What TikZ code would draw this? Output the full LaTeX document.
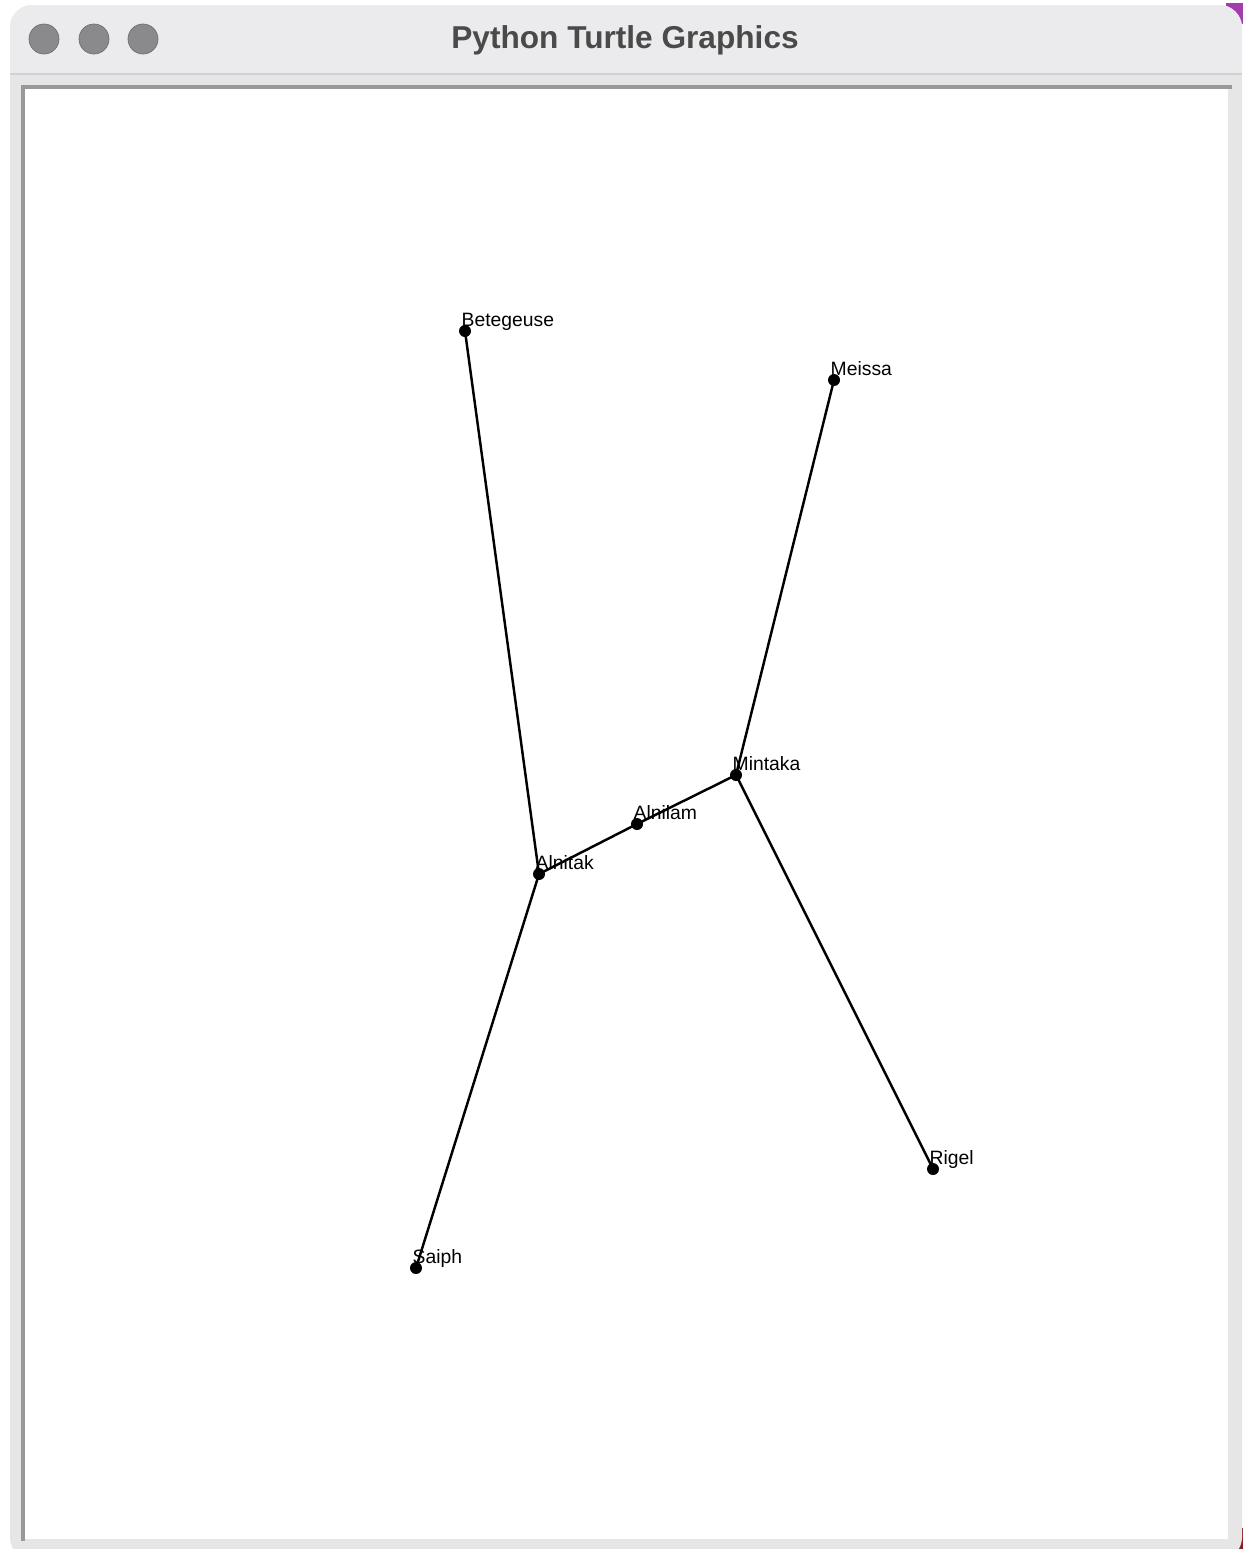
\documentclass[tikz,border=0pt]{standalone}
\usepackage{fontspec}
\setmainfont{Liberation Sans}
\usepackage{tikz}

\definecolor{titlegray}{HTML}{EBEBEE}
\definecolor{framegray}{HTML}{E6E6E6}
\definecolor{bordergray}{HTML}{999999}
\definecolor{btngray}{HTML}{8A898C}
\definecolor{btnedge}{HTML}{707073}
\definecolor{titletext}{HTML}{4A4A4A}
\definecolor{deskpurple}{HTML}{A23DB0}
\definecolor{deskred}{HTML}{8A1C22}

\begin{document}
\begin{tikzpicture}[x=0.02cm, y=-0.02cm, thick,
    star/.style={circle, fill=black, inner sep=0pt, minimum size=0.24cm},
    starname/.style={anchor=base west, inner sep=0pt, font=\fontsize{11}{13}\selectfont},
    btn/.style={circle, fill=btngray, draw=btnedge, line width=0.4pt, minimum size=0.6cm, inner sep=0pt},
    link/.style={line width=1.4pt}]
    \useasboundingbox (0,0) rectangle (1252,1549);
    \fill[white] (0,0) rectangle (1252,1549);

    % Desktop corners
    \fill[deskpurple] (1226,3) rectangle (1243,24);
    \fill[deskred] (1226,1528) rectangle (1243,1549);

    % Window
    \fill[framegray, rounded corners=0.45cm] (10,5) rectangle (1242,1560);
    \begin{scope}
        \clip[rounded corners=0.45cm] (10,5) rectangle (1242,1560);
        \fill[titlegray] (10,5) rectangle (1242,74);
    \end{scope}
    \draw[black!18, line width=0.8pt] (10,74) -- (1242,74);

    % Buttons and title
    \node[btn] (close) at (44,39) {};
    \node[btn] (mini) at (94,39) {};
    \node[btn] (zoom) at (143,39) {};
    \node[font=\fontsize{18}{20}\selectfont\bfseries, text=titletext] (title) at (625,40) {Python Turtle Graphics};

    % Canvas
    \fill[bordergray] (21,85) rectangle (1232,89);
    \fill[bordergray] (21,85) rectangle (25,1541);
    \fill[white] (25,89) rectangle (1228,1539);

    % Stars
    \node[star] (betegeuse) at (465,331) {};
    \node[star] (meissa) at (834,380) {};
    \node[star] (mintaka) at (736,775) {};
    \node[star] (alnilam) at (637,824) {};
    \node[star] (alnitak) at (539,874) {};
    \node[star] (saiph) at (416,1268) {};
    \node[star] (rigel) at (933,1169) {};

    % Lines
    \draw[link] (betegeuse.center) -- (alnitak.center);
    \draw[link] (meissa.center) -- (mintaka.center);
    \draw[link] (alnitak.center) -- (alnilam.center) -- (mintaka.center);
    \draw[link] (alnitak.center) -- (saiph.center);
    \draw[link] (mintaka.center) -- (rigel.center);

    % Names
    \node[starname] (betegeuse-name) at ([shift={(-4,-5)}]betegeuse.center) {Betegeuse};
    \node[starname] (meissa-name) at ([shift={(-4,-5)}]meissa.center) {Meissa};
    \node[starname] (mintaka-name) at ([shift={(-4,-5)}]mintaka.center) {Mintaka};
    \node[starname] (alnilam-name) at ([shift={(-4,-5)}]alnilam.center) {Alnilam};
    \node[starname] (alnitak-name) at ([shift={(-4,-5)}]alnitak.center) {Alnitak};
    \node[starname] (saiph-name) at ([shift={(-4,-5)}]saiph.center) {Saiph};
    \node[starname] (rigel-name) at ([shift={(-4,-5)}]rigel.center) {Rigel};
\end{tikzpicture}
\end{document}
